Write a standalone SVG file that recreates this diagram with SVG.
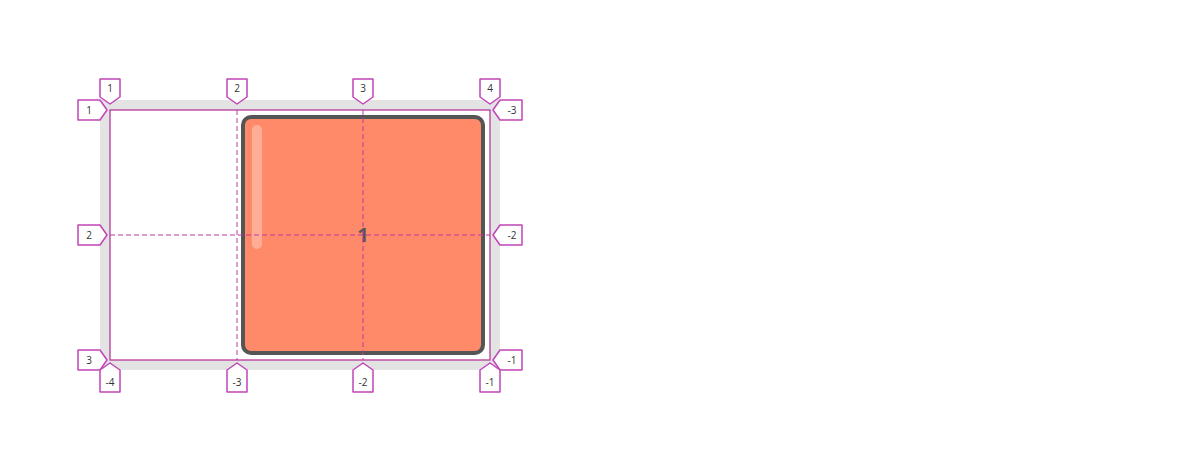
<svg xmlns="http://www.w3.org/2000/svg" width="1200" height="470" viewBox="0 0 1200 470">
<style>
.tag{fill:#fff;stroke:#c244b8;stroke-width:1.5;stroke-linejoin:round}
.lbl{font-family:"Open Sans","Liberation Sans",sans-serif;font-size:10px;fill:#333;text-anchor:middle;dominant-baseline:central}
.grid{fill:none;stroke:#b8399f;stroke-width:1.3}
.dash{stroke:#c0399f;stroke-width:1;stroke-dasharray:5 3;fill:none}
</style>
<rect width="1200" height="470" fill="#fff"/>
<g id="container">
<rect x="100" y="100" width="400" height="270" fill="#e3e3e3"/>
<rect x="110" y="110" width="380" height="250" fill="#fff"/>
</g>
<g id="item1">
<rect x="243" y="117" width="240" height="236" rx="8" fill="#ff8a6a" stroke="#555" stroke-width="4"/>
<rect x="252" y="125" width="10" height="124" rx="5" fill="#fff" opacity="0.3"/>
<text x="363" y="234" font-family="'Open Sans','Liberation Sans',sans-serif" font-size="20" font-weight="bold" fill="#555" text-anchor="middle" dominant-baseline="central">1</text>
</g>
<g id="connectors">
<rect class="grid" x="110" y="110" width="380" height="250"/>
<line class="dash" x1="237" y1="110" x2="237" y2="360"/>
<line class="dash" x1="363" y1="110" x2="363" y2="360"/>
<line class="dash" x1="110" y1="235" x2="490" y2="235"/>
</g>
<g id="top-labels">
<g id="col1"><path class="tag" d="M100,79H120V97L110,104L100,97Z"/><text class="lbl" x="110" y="88">1</text></g>
<g id="col2"><path class="tag" d="M227,79H247V97L237,104L227,97Z"/><text class="lbl" x="237" y="88">2</text></g>
<g id="col3"><path class="tag" d="M353,79H373V97L363,104L353,97Z"/><text class="lbl" x="363" y="88">3</text></g>
<g id="col4"><path class="tag" d="M480,79H500V97L490,104L480,97Z"/><text class="lbl" x="490" y="88">4</text></g>
</g>
<g id="left-labels">
<g id="row1"><path class="tag" d="M78,100H100L107,110L100,120H78Z"/><text class="lbl" x="89" y="110">1</text></g>
<g id="row2"><path class="tag" d="M78,225H100L107,235L100,245H78Z"/><text class="lbl" x="89" y="235">2</text></g>
<g id="row3"><path class="tag" d="M78,350H100L107,360L100,370H78Z"/><text class="lbl" x="89" y="360">3</text></g>
</g>
<g id="right-labels">
<g id="rowm3"><path class="tag" d="M493,110L500,100H522V120H500Z"/><text class="lbl" x="512" y="110">-3</text></g>
<g id="rowm2"><path class="tag" d="M493,235L500,225H522V245H500Z"/><text class="lbl" x="512" y="235">-2</text></g>
<g id="rowm1"><path class="tag" d="M493,360L500,350H522V370H500Z"/><text class="lbl" x="512" y="360">-1</text></g>
</g>
<g id="bottom-labels">
<g id="colm4"><path class="tag" d="M110,363L120,370V392H100V370Z"/><text class="lbl" x="110" y="382">-4</text></g>
<g id="colm3"><path class="tag" d="M237,363L247,370V392H227V370Z"/><text class="lbl" x="237" y="382">-3</text></g>
<g id="colm2"><path class="tag" d="M363,363L373,370V392H353V370Z"/><text class="lbl" x="363" y="382">-2</text></g>
<g id="colm1"><path class="tag" d="M490,363L500,370V392H480V370Z"/><text class="lbl" x="490" y="382">-1</text></g>
</g>
</svg>
